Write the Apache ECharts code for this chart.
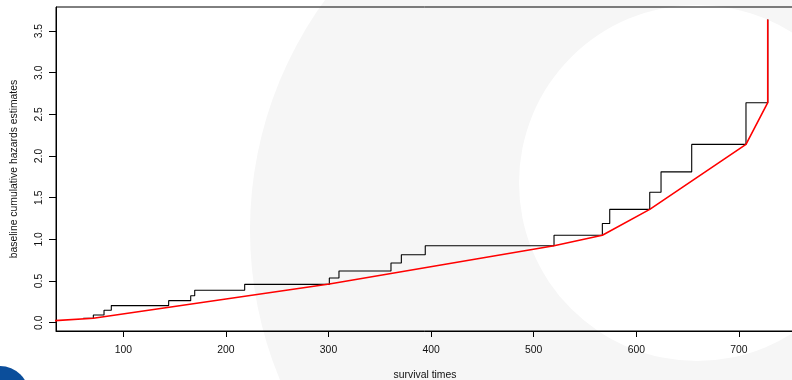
<!DOCTYPE html>
<html>
<head>
<meta charset="utf-8">
<script src="https://cdn.jsdelivr.net/npm/echarts@6/dist/echarts.min.js"></script>
<style>
html,body{margin:0;padding:0;background:#fff;}
#chart{width:792px;height:380px;}
</style>
</head>
<body>
<div id="chart"></div>
<script>
// Step function (baseline cumulative hazards estimates)
const stepTimes   = [61.0, 70.8, 81.2, 88.3, 144.2, 165.7, 169.6, 218.3, 300.8, 310.2, 360.9, 371.0, 394.3, 519.8, 566.9, 574.1, 613.1, 624.1, 654.0, 706.9, 728.1];
const stepHazards = [0.053, 0.092, 0.149, 0.205, 0.264, 0.324, 0.39, 0.46, 0.536, 0.62, 0.716, 0.816, 0.924, 1.05, 1.19, 1.36, 1.565, 1.81, 2.14, 2.64, 3.64];
// Red fitted curve
const fitTimes   = [0, 70.8, 300.8, 519.8, 566.9, 613.1, 706.9, 728.1, 728.1];
const fitHazards = [0, 0.053, 0.464, 0.924, 1.05, 1.36, 2.14, 2.64, 3.64];
// Tick labels
const xTicks = [100, 200, 300, 400, 500, 600, 700];
const yTicks = [0, 0.5, 1, 1.5, 2, 2.5, 3, 3.5];

const FONT = 'Liberation Sans, Arial, sans-serif';
const chart = echarts.init(document.getElementById('chart'), null, {renderer: 'canvas'});
chart.setOption({
  animation: false,
  backgroundColor: '#fff',
  graphic: [
    {type: 'circle', silent: true, z: -10, shape: {cx: 640, cy: 230, r: 390}, style: {fill: '#f6f6f6'}},
    {type: 'circle', silent: true, z: -9, shape: {cx: 697, cy: 183, r: 178}, style: {fill: '#ffffff'}},
    {type: 'circle', silent: true, z: 10, shape: {cx: 0, cy: 395, r: 29}, style: {fill: '#0b4e9b'}}
  ],
  grid: {left: 56, top: 7, right: -2, bottom: 49, show: true, borderColor: '#000', borderWidth: 1, backgroundColor: 'transparent', outerBoundsMode: 'none', containLabel: false},
  xAxis: {
    type: 'value', min: 34.4, max: 753.7, position: 'bottom',
    axisLine: {show: true, onZero: false, lineStyle: {color: '#000', width: 1}},
    axisTick: {show: true, customValues: xTicks, length: 6, lineStyle: {color: '#000'}},
    axisLabel: {customValues: xTicks, margin: 14, fontSize: 10.4, color: '#111', fontFamily: FONT},
    splitLine: {show: false},
    name: 'survival times', nameLocation: 'middle', nameGap: 39,
    nameTextStyle: {fontSize: 10.4, color: '#111', fontFamily: FONT}
  },
  yAxis: {
    type: 'value', min: -0.1, max: 3.789,
    axisLine: {show: true, onZero: false, lineStyle: {color: '#000', width: 1}},
    axisTick: {show: true, customValues: yTicks, length: 7, lineStyle: {color: '#000'}},
    axisLabel: {customValues: yTicks, rotate: 90, margin: 12, fontSize: 10.4, color: '#111', fontFamily: FONT,
      formatter: v => v.toFixed(1)},
    splitLine: {show: false},
    name: 'baseline cumulative hazards estimates', nameLocation: 'middle', nameGap: 37, nameRotate: 90,
    nameTextStyle: {fontSize: 10.4, color: '#111', fontFamily: FONT}
  },
  series: [
    {type: 'line', step: 'end', showSymbol: false, z: 2,
      data: stepTimes.map((t, i) => [t, stepHazards[i]]),
      lineStyle: {color: '#000', width: 1.1}},
    {type: 'line', showSymbol: false, z: 3,
      data: fitTimes.map((t, i) => [t, fitHazards[i]]),
      lineStyle: {color: '#ff0000', width: 1.6}}
  ]
});
</script>
</body>
</html>
